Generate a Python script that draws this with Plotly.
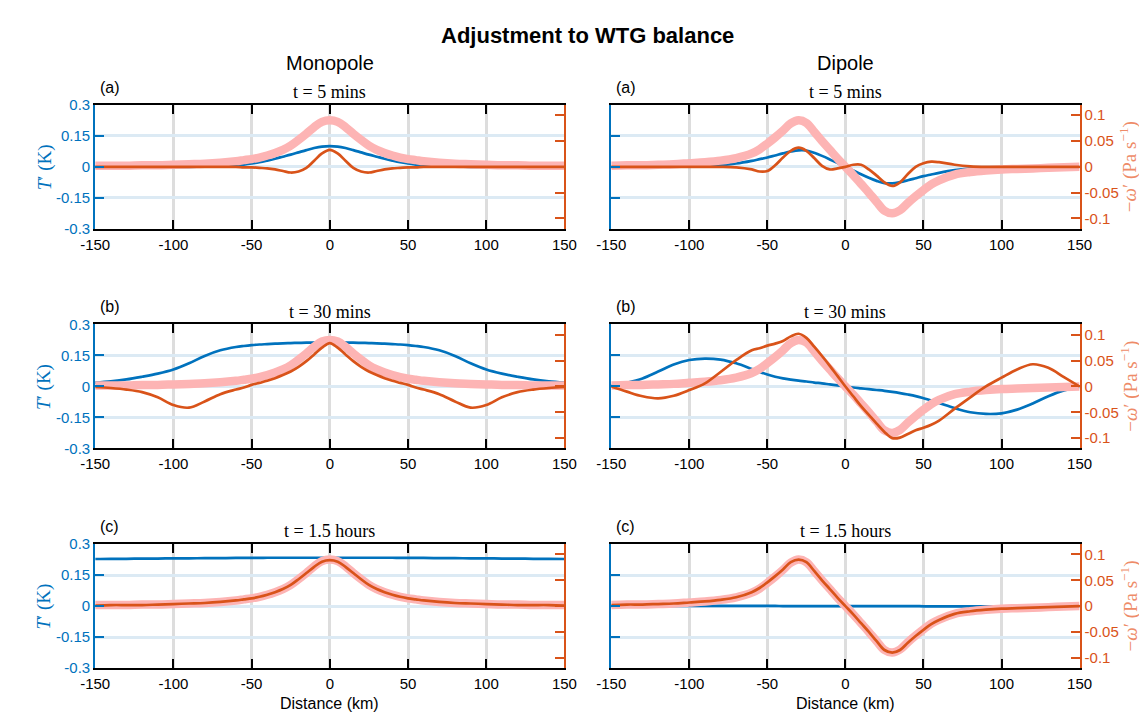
import plotly.graph_objects as go

W, H = 1147, 712

distance_km = [-150, -140, -130, -120, -110, -100, -90, -80, -70, -60, -55, -50, -45, -40, -35, -30, -25, -20, -15, -10, -5,
               0, 5, 10, 15, 20, 25, 30, 35, 40, 45, 50, 55, 60, 70, 80, 90, 100, 110, 120, 130, 140, 150]

# ---------------- Monopole ----------------
mono_wtg = [0.002, 0.002, 0.002, 0.003, 0.003, 0.004, 0.005, 0.006, 0.008, 0.011, 0.013, 0.015, 0.018, 0.022, 0.027, 0.033, 0.041, 0.052, 0.064, 0.077, 0.087,
            0.090,
            0.087, 0.077, 0.064, 0.052, 0.041, 0.033, 0.027, 0.022, 0.018, 0.015, 0.013, 0.011, 0.008, 0.006, 0.005, 0.004, 0.003, 0.003, 0.002, 0.002, 0.002]

mono_T_5min = [0, 0, 0, 0, 0, 0, 0, 0.001, 0.003, 0.007, 0.011, 0.016, 0.022, 0.030, 0.039, 0.049, 0.059, 0.070, 0.081, 0.091, 0.098,
               0.100,
               0.098, 0.091, 0.081, 0.070, 0.059, 0.049, 0.039, 0.030, 0.022, 0.016, 0.011, 0.007, 0.003, 0.001, 0, 0, 0, 0, 0, 0, 0]
mono_w_5min = [0, 0, 0, 0, 0, 0, 0, 0, 0, 0, -0.001, -0.001, -0.002, -0.003, -0.005, -0.008, -0.011, -0.009, -0.002, 0.012, 0.026,
               0.033,
               0.026, 0.012, -0.002, -0.009, -0.011, -0.008, -0.005, -0.003, -0.002, -0.001, -0.001, 0, 0, 0, 0, 0, 0, 0, 0, 0, 0]

mono_T_30min = [0.019, 0.025, 0.034, 0.047, 0.062, 0.082, 0.112, 0.148, 0.175, 0.191, 0.196, 0.200, 0.203, 0.205, 0.207, 0.209, 0.210, 0.211, 0.212, 0.212, 0.213,
                0.213,
                0.213, 0.212, 0.212, 0.211, 0.210, 0.209, 0.207, 0.205, 0.203, 0.200, 0.196, 0.191, 0.175, 0.148, 0.112, 0.082, 0.062, 0.047, 0.034, 0.025, 0.019]
mono_w_30min = [-0.001, -0.003, -0.006, -0.011, -0.021, -0.036, -0.041, -0.029, -0.015, -0.006, -0.002, 0.003, 0.007, 0.011, 0.016, 0.022, 0.029, 0.038, 0.049, 0.062, 0.075,
                0.084,
                0.075, 0.062, 0.049, 0.038, 0.029, 0.022, 0.016, 0.011, 0.007, 0.003, -0.002, -0.006, -0.015, -0.029, -0.041, -0.036, -0.021, -0.011, -0.006, -0.003, -0.001]

mono_T_90min = [0.228, 0.229, 0.229, 0.230, 0.230, 0.231, 0.231, 0.232, 0.232, 0.233, 0.233, 0.233, 0.233, 0.234, 0.234, 0.234, 0.234, 0.234, 0.234, 0.234, 0.234,
                0.234,
                0.234, 0.234, 0.234, 0.234, 0.234, 0.234, 0.234, 0.234, 0.233, 0.233, 0.233, 0.233, 0.232, 0.232, 0.231, 0.231, 0.230, 0.230, 0.229, 0.229, 0.228]
mono_w_90min = [0.001, 0.002, 0.002, 0.002, 0.003, 0.004, 0.005, 0.006, 0.008, 0.011, 0.013, 0.015, 0.018, 0.022, 0.027, 0.033, 0.041, 0.052, 0.064, 0.076, 0.086,
                0.089,
                0.086, 0.076, 0.064, 0.052, 0.041, 0.033, 0.027, 0.022, 0.018, 0.015, 0.013, 0.011, 0.008, 0.006, 0.005, 0.004, 0.003, 0.002, 0.002, 0.002, 0.001]

# ---------------- Dipole ----------------
dip_wtg = [0.002, 0.003, 0.003, 0.004, 0.005, 0.007, 0.009, 0.012, 0.017, 0.026, 0.034, 0.045, 0.057, 0.070, 0.084, 0.090, 0.085, 0.068, 0.050, 0.033, 0.016,
           0.000,
           -0.016, -0.033, -0.050, -0.068, -0.085, -0.090, -0.084, -0.070, -0.057, -0.045, -0.034, -0.026, -0.015, -0.010, -0.007, -0.005, -0.004, -0.003, -0.002, -0.001, 0.000]

dip_T_5min = [0, 0, 0, 0.001, 0.001, 0.002, 0.004, 0.008, 0.016, 0.029, 0.037, 0.045, 0.055, 0.065, 0.074, 0.080, 0.079, 0.068, 0.053, 0.036, 0.018,
              0.000,
              -0.018, -0.036, -0.053, -0.068, -0.079, -0.080, -0.074, -0.065, -0.055, -0.045, -0.037, -0.029, -0.016, -0.008, -0.004, -0.002, -0.001, -0.001, 0, 0, 0]
dip_w_5min = [0, 0, 0, 0, 0, 0, 0, 0, -0.001, -0.005, -0.009, -0.008, 0.003, 0.018, 0.031, 0.037, 0.031, 0.017, 0.002, -0.005, -0.003,
              0.000,
              0.004, 0.004, -0.005, -0.017, -0.030, -0.037, -0.030, -0.014, 0.000, 0.007, 0.010, 0.009, 0.004, 0.001, 0, 0, 0, 0, 0, 0, 0]

dip_T_30min = [0.003, 0.018, 0.039, 0.072, 0.106, 0.128, 0.135, 0.130, 0.112, 0.085, 0.071, 0.058, 0.047, 0.039, 0.033, 0.028, 0.024, 0.019, 0.015, 0.010, 0.005,
               0.000,
               -0.005, -0.009, -0.013, -0.017, -0.021, -0.026, -0.032, -0.039, -0.047, -0.057, -0.068, -0.080, -0.105, -0.125, -0.133, -0.130, -0.112, -0.082, -0.047, -0.019, -0.002]
dip_w_30min = [0.000, -0.010, -0.019, -0.023, -0.018, -0.007, 0.006, 0.028, 0.051, 0.070, 0.074, 0.079, 0.083, 0.088, 0.097, 0.102, 0.094, 0.077, 0.059, 0.040, 0.020,
               0.000,
               -0.019, -0.038, -0.055, -0.072, -0.088, -0.100, -0.099, -0.092, -0.085, -0.080, -0.074, -0.066, -0.043, -0.021, 0.000, 0.017, 0.033, 0.043, 0.036, 0.018, 0.000]

dip_T_90min = [0.001, 0.001, 0.001, 0.001, 0.001, 0.001, 0.001, 0.001, 0.001, 0.001, 0.001, 0.001, 0.001, 0.0, 0.0, 0.0, 0.0, 0.0, 0.0, 0.0, 0.0,
               0.0,
               0.0, 0.0, 0.0, 0.0, 0.0, 0.0, 0.0, 0.0, 0.0, -0.001, -0.001, -0.001, -0.001, -0.001, -0.001, -0.001, -0.001, -0.001, -0.001, -0.001, -0.001]
dip_w_90min = [0.002, 0.003, 0.003, 0.004, 0.005, 0.007, 0.009, 0.012, 0.017, 0.027, 0.035, 0.046, 0.058, 0.071, 0.085, 0.090, 0.085, 0.068, 0.050, 0.033, 0.016,
               0.000,
               -0.016, -0.033, -0.050, -0.068, -0.085, -0.090, -0.085, -0.071, -0.058, -0.046, -0.035, -0.027, -0.015, -0.010, -0.007, -0.005, -0.004, -0.003, -0.002, -0.001, 0.000]

time_titles = ["t = 5 mins", "t = 30 mins", "t = 1.5 hours"]
panel_letters = ["(a)", "(b)", "(c)"]
column_titles = ["Monopole", "Dipole"]

x_ticks = [-150, -100, -50, 0, 50, 100, 150]
x_ticktext = ["-150", "-100", "-50", "0", "50", "100", "150"]
T_ticks = [-0.3, -0.15, 0, 0.15, 0.3]
T_ticktext = ["-0.3", "-0.15", "0", "0.15", "0.3"]
w_ticks = [-0.1, -0.05, 0, 0.05, 0.1]
w_ticktext = ["-0.1", "-0.05", "0", "0.05", "0.1"]

panels = [
    # (row, col, T, w, wtg)
    (0, 0, mono_T_5min, mono_w_5min, mono_wtg),
    (0, 1, dip_T_5min, dip_w_5min, dip_wtg),
    (1, 0, mono_T_30min, mono_w_30min, mono_wtg),
    (1, 1, dip_T_30min, dip_w_30min, dip_wtg),
    (2, 0, mono_T_90min, mono_w_90min, mono_wtg),
    (2, 1, dip_T_90min, dip_w_90min, dip_wtg),
]

BLUE = "#0072BD"
ORANGE = "#D95319"
PINK = "#FDB4B4"
TITLE_SALMON = "#EE8B68"
SANS = "Liberation Sans, Arial, sans-serif"
SERIF = "Liberation Serif, Times New Roman, serif"

# pixel layout
col_x = [(74, 555), (603, 1083)]
row_y = [(90, 217), (315, 442), (540, 667)]


def px(x):
    return x / W


def py(y):
    return 1 - y / H


fig = go.Figure()
layout = dict(
    width=W, height=H, autosize=False,
    margin=dict(l=0, r=0, t=0, b=0),
    paper_bgcolor="white", plot_bgcolor="white",
    showlegend=False,
)
annotations = []

for i, (r, c, T, w, wtg) in enumerate(panels):
    xn = "" if i == 0 else str(i + 1)
    yl = str(2 * i + 1) if i > 0 else ""
    yr = str(2 * i + 2)
    xref = "x" + xn
    ylref = "y" + yl
    yrref = "y" + yr

    fig.add_trace(go.Scatter(x=distance_km, y=T, xaxis=xref, yaxis=ylref, mode="lines",
                             line=dict(color=BLUE, width=2.7, shape="spline", smoothing=1.0),
                             hoverinfo="skip"))
    fig.add_trace(go.Scatter(x=distance_km, y=wtg, xaxis=xref, yaxis=yrref, mode="lines",
                             line=dict(color=PINK, width=8.5, shape="spline", smoothing=1.0),
                             hoverinfo="skip"))
    fig.add_trace(go.Scatter(x=distance_km, y=w, xaxis=xref, yaxis=yrref, mode="lines",
                             line=dict(color=ORANGE, width=2.7, shape="spline", smoothing=1.0),
                             hoverinfo="skip"))

    x0, x1 = col_x[c]
    y0, y1 = row_y[r]
    xdom = [px(x0), px(x1)]
    ydom = [py(y1), py(y0)]

    layout["xaxis" + xn] = dict(
        domain=xdom, anchor=ylref, range=[-150, 150],
        tickmode="array", tickvals=x_ticks, ticktext=x_ticktext,
        ticks="inside", ticklen=9, tickwidth=2, tickcolor="black",
        showline=True, linecolor="black", linewidth=2, mirror="ticks",
        showgrid=True, gridcolor="#DDDDDD", gridwidth=2.5, zeroline=False,
        tickfont=dict(family=SANS, size=15, color="black"),
        ticklabelstandoff=1,
    )
    layout["yaxis" + yl] = dict(
        domain=ydom, anchor=xref, range=[-0.3, 0.3],
        tickmode="array", tickvals=T_ticks, ticktext=T_ticktext,
        ticks="inside", ticklen=9, tickwidth=2, tickcolor=BLUE,
        showline=True, linecolor=BLUE, linewidth=2,
        showgrid=True, gridcolor="#DCEAF4", gridwidth=2.5, zeroline=False,
        showticklabels=(c == 0),
        tickfont=dict(family=SANS, size=15, color=BLUE),
    )
    layout["yaxis" + yr] = dict(
        domain=ydom, anchor=xref, overlaying=ylref, side="right", range=[-0.12, 0.12],
        tickmode="array", tickvals=w_ticks, ticktext=w_ticktext,
        ticks="inside", ticklen=9, tickwidth=2, tickcolor=ORANGE,
        showline=True, linecolor=ORANGE, linewidth=2,
        showgrid=False, zeroline=False,
        showticklabels=(c == 1),
        tickfont=dict(family=SANS, size=15, color=ORANGE),
    )

    # panel letter and time subtitle
    annotations.append(dict(x=px(x0 + 3), y=py(y0 - 18), xref="paper", yref="paper",
                            text=panel_letters[r], showarrow=False, xanchor="left", yanchor="middle",
                            font=dict(family=SANS, size=16, color="black")))
    annotations.append(dict(x=px((x0 + x1) / 2), y=py(y0 - 13), xref="paper", yref="paper",
                            text=time_titles[r], showarrow=False, xanchor="center", yanchor="middle",
                            font=dict(family=SERIF, size=18, color="black")))
    # axis titles
    if c == 0:
        annotations.append(dict(x=px(22), y=py((y0 + y1) / 2), xref="paper", yref="paper",
                                text="<i>T</i>\u2032 (K)", textangle=-90, showarrow=False,
                                xanchor="center", yanchor="middle",
                                font=dict(family=SERIF, size=19, color=BLUE)))
    else:
        annotations.append(dict(x=px(1134), y=py((y0 + y1) / 2), xref="paper", yref="paper",
                                text="\u2212<i>\u03c9</i>\u2032 (Pa s<sup>\u22121</sup>)", textangle=-90,
                                showarrow=False, xanchor="center", yanchor="middle",
                                font=dict(family=SERIF, size=19, color=TITLE_SALMON)))
    if r == 2:
        annotations.append(dict(x=px((x0 + x1) / 2), y=py(703), xref="paper", yref="paper",
                                text="Distance (km)", showarrow=False, xanchor="center", yanchor="middle",
                                font=dict(family=SANS, size=16, color="black")))

for c in range(2):
    x0, x1 = col_x[c]
    annotations.append(dict(x=px((x0 + x1) / 2), y=py(47), xref="paper", yref="paper",
                            text=column_titles[c], showarrow=False, xanchor="center", yanchor="middle",
                            font=dict(family=SANS, size=20, color="black")))

annotations.append(dict(x=px(579), y=py(19), xref="paper", yref="paper",
                        text="<b>Adjustment to WTG balance</b>", showarrow=False,
                        xanchor="center", yanchor="middle",
                        font=dict(family=SANS, size=22, color="black")))

layout["annotations"] = annotations
fig.update_layout(**layout)
fig.write_html("out.html")
